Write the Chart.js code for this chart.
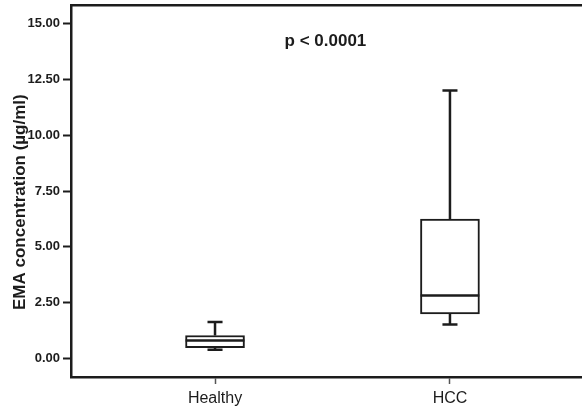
<!DOCTYPE html>
<html>
<head>
<meta charset="utf-8">
<script src="https://cdn.jsdelivr.net/npm/chart.js@4.4.1/dist/chart.umd.min.js"></script>
<style>
  html, body { margin: 0; padding: 0; background: #fff; }
  #wrap { width: 582px; height: 411px; position: relative; }
</style>
</head>
<body>
<div id="wrap"><canvas id="chart"></canvas></div>
<script>
// box plot summary per group
var categories = ["Healthy", "HCC"];
var positions = [1, 2];
var mins = [0.38, 1.51];
var q1s = [0.47, 1.99];
var medians = [0.80, 2.81];
var q3s = [1.02, 6.24];
var maxs = [1.63, 12.01];
var yTicks = [0, 2.5, 5, 7.5, 10, 12.5, 15];
var pText = "p < 0.0001";
var yTitle = "EMA concentration (µg/ml)";

var FONT = "'Liberation Sans', Arial, Helvetica, sans-serif";
var INK = "#1c1c1c";
var capHalf = 0.032;
var boxHalf = 0.125;

// whiskers, caps and medians as line segments separated by gaps
var segs = [];
positions.forEach(function (x, i) {
    segs.push({x: x, y: q3s[i]}, {x: x, y: maxs[i]}, {x: x, y: null});
    segs.push({x: x - capHalf, y: maxs[i]}, {x: x + capHalf, y: maxs[i]}, {x: x, y: null});
    segs.push({x: x, y: q1s[i]}, {x: x, y: mins[i]}, {x: x, y: null});
    segs.push({x: x - capHalf, y: mins[i]}, {x: x + capHalf, y: mins[i]}, {x: x, y: null});
    segs.push({x: x - boxHalf, y: medians[i]}, {x: x + boxHalf, y: medians[i]}, {x: x, y: null});
});

// p-value annotation and the y axis title
var labels = {
    id: "labels",
    afterDraw: (chart) => {
        var ctx = chart.ctx;
        var xs = chart.scales.x, ys = chart.scales.y;
        ctx.save();
        ctx.fillStyle = INK;
        ctx.textAlign = "center";
        ctx.textBaseline = "middle";
        ctx.font = "bold 17px " + FONT;
        ctx.fillText(pText, xs.getPixelForValue(1.47), ys.getPixelForValue(14.2));
        ctx.translate(20, ys.getPixelForValue(7.0));
        ctx.rotate(-Math.PI / 2);
        ctx.font = "bold 17px " + FONT;
        ctx.fillText(yTitle, 0, 0);
        ctx.restore();
    }
};

var xMin = 0.387, xMax = 2.562;

new Chart(document.getElementById("chart"), {
    type: "bar",
    data: {
        datasets: [
            {
                type: "line",
                data: segs,
                borderColor: INK,
                borderWidth: 2.5,
                pointRadius: 0,
                spanGaps: false,
                order: 0
            },
            {
                type: "bar",
                data: positions.map((x, i) => ({x: x, y: [q1s[i], q3s[i]]})),
                backgroundColor: "#ffffff",
                borderColor: INK,
                borderWidth: 2,
                borderSkipped: false,
                barThickness: 59,
                order: 1
            }
        ]
    },
    options: {
        animation: false,
        responsive: true,
        maintainAspectRatio: false,
        layout: { padding: 0 },
        plugins: {
            legend: { display: false },
            tooltip: { enabled: false }
        },
        scales: {
            x: {
                type: "linear",
                position: "bottom",
                min: xMin,
                max: xMax,
                offset: false,
                afterBuildTicks: (s) => { s.ticks = positions.map((v) => ({value: v})); },
                afterFit: (s) => { s.height = 34; s.paddingLeft = 0; s.paddingRight = 0; },
                ticks: {
                    callback: (v) => categories[positions.indexOf(v)],
                    font: { family: FONT, size: 16 },
                    color: INK,
                    padding: 5,
                    maxRotation: 0,
                    autoSkip: false
                },
                grid: {
                    offset: false,
                    drawOnChartArea: false,
                    tickLength: 7,
                    tickColor: "#555",
                    tickWidth: 1.5
                },
                border: { display: true, color: INK, width: 2.5 }
            },
            xTop: {
                type: "linear",
                position: "top",
                min: xMin,
                max: xMax,
                afterFit: (s) => { s.height = 5; s.paddingLeft = 0; s.paddingRight = 0; },
                ticks: { display: false },
                grid: { drawOnChartArea: false, drawTicks: false },
                border: { display: true, color: INK, width: 2.5 }
            },
            y: {
                type: "linear",
                min: -0.84,
                max: 15.84,
                afterBuildTicks: (s) => { s.ticks = yTicks.map((v) => ({value: v})); },
                afterFit: (s) => { s.width = 71; s.paddingTop = 0; s.paddingBottom = 0; },
                ticks: {
                    callback: (v) => v.toFixed(2),
                    font: { family: FONT, size: 13, weight: "bold" },
                    color: INK,
                    padding: 3
                },
                grid: {
                    drawOnChartArea: false,
                    tickLength: 8,
                    tickColor: INK,
                    tickWidth: 2
                },
                border: { display: true, color: INK, width: 2.5 }
            }
        }
    },
    plugins: [labels]
});
</script>
</body>
</html>
